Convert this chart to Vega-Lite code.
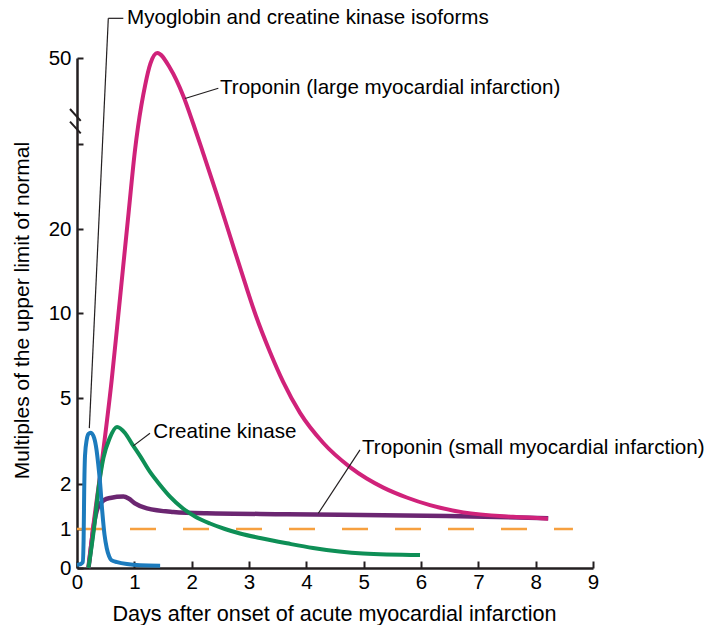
{
  "$schema": "https://vega.github.io/schema/vega-lite/v6.json",
  "width": 516,
  "height": 510,
  "autosize": {"type": "none"},
  "padding": {"left": 77, "top": 58, "right": 112, "bottom": 57},
  "background": "white",
  "config": {"view": {"stroke": null}, "font": "Liberation Sans", "axis": {"grid": false}},
  "datasets": {
    "curves": [
      {"s": "ref", "d": 0, "v": 1}, {"s": "ref", "d": 8.65, "v": 1},
      {"s": "purple", "d": 0.2, "v": 0}, {"s": "purple", "d": 0.25, "v": 0.6}, {"s": "purple", "d": 0.29, "v": 1.05}, {"s": "purple", "d": 0.37, "v": 1.5}, {"s": "purple", "d": 0.47, "v": 1.64}, {"s": "purple", "d": 0.58, "v": 1.69}, {"s": "purple", "d": 0.81, "v": 1.72}, {"s": "purple", "d": 0.9, "v": 1.68}, {"s": "purple", "d": 1.01, "v": 1.57}, {"s": "purple", "d": 1.22, "v": 1.46}, {"s": "purple", "d": 1.68, "v": 1.38}, {"s": "purple", "d": 2.26, "v": 1.35}, {"s": "purple", "d": 3.66, "v": 1.33}, {"s": "purple", "d": 6.45, "v": 1.29}, {"s": "purple", "d": 8.22, "v": 1.24},
      {"s": "magenta", "d": 0.2, "v": 0}, {"s": "magenta", "d": 0.284, "v": 1.06}, {"s": "magenta", "d": 0.431, "v": 2.73}, {"s": "magenta", "d": 0.605, "v": 6.06}, {"s": "magenta", "d": 0.7, "v": 9.2}, {"s": "magenta", "d": 0.8, "v": 15.2}, {"s": "magenta", "d": 0.9, "v": 22.9}, {"s": "magenta", "d": 1.012, "v": 33.9}, {"s": "magenta", "d": 1.064, "v": 37.9}, {"s": "magenta", "d": 1.19, "v": 45.3}, {"s": "magenta", "d": 1.28, "v": 49.0}, {"s": "magenta", "d": 1.4, "v": 50.88}, {"s": "magenta", "d": 1.622, "v": 48.25}, {"s": "magenta", "d": 1.854, "v": 43.35}, {"s": "magenta", "d": 2.029, "v": 38.44}, {"s": "magenta", "d": 2.203, "v": 33.27}, {"s": "magenta", "d": 2.437, "v": 26.18}, {"s": "magenta", "d": 2.669, "v": 19.2}, {"s": "magenta", "d": 2.93, "v": 13.61}, {"s": "magenta", "d": 3.122, "v": 9.84}, {"s": "magenta", "d": 3.366, "v": 7.72}, {"s": "magenta", "d": 3.598, "v": 5.94}, {"s": "magenta", "d": 3.89, "v": 4.48}, {"s": "magenta", "d": 4.296, "v": 3.43}, {"s": "magenta", "d": 4.762, "v": 2.59}, {"s": "magenta", "d": 5.053, "v": 2.19}, {"s": "magenta", "d": 5.343, "v": 1.92}, {"s": "magenta", "d": 5.751, "v": 1.7}, {"s": "magenta", "d": 6.157, "v": 1.53}, {"s": "magenta", "d": 6.738, "v": 1.37}, {"s": "magenta", "d": 7.605, "v": 1.27}, {"s": "magenta", "d": 8.215, "v": 1.23},
      {"s": "green", "d": 0.2, "v": 0}, {"s": "green", "d": 0.3, "v": 1.05}, {"s": "green", "d": 0.372, "v": 1.87}, {"s": "green", "d": 0.46, "v": 2.9}, {"s": "green", "d": 0.57, "v": 3.6}, {"s": "green", "d": 0.698, "v": 3.99}, {"s": "green", "d": 0.837, "v": 3.78}, {"s": "green", "d": 0.959, "v": 3.4}, {"s": "green", "d": 1.099, "v": 2.98}, {"s": "green", "d": 1.273, "v": 2.42}, {"s": "green", "d": 1.448, "v": 1.98}, {"s": "green", "d": 1.622, "v": 1.72}, {"s": "green", "d": 1.849, "v": 1.456}, {"s": "green", "d": 2.058, "v": 1.278}, {"s": "green", "d": 2.32, "v": 1.122}, {"s": "green", "d": 2.58, "v": 1.0}, {"s": "green", "d": 2.843, "v": 0.885}, {"s": "green", "d": 3.192, "v": 0.769}, {"s": "green", "d": 3.663, "v": 0.633}, {"s": "green", "d": 4.117, "v": 0.513}, {"s": "green", "d": 4.989, "v": 0.372}, {"s": "green", "d": 5.983, "v": 0.333},
      {"s": "blue", "d": 0, "v": 0.08}, {"s": "blue", "d": 0.06, "v": 0.1}, {"s": "blue", "d": 0.1, "v": 0.15}, {"s": "blue", "d": 0.115, "v": 0.7}, {"s": "blue", "d": 0.125, "v": 1.8}, {"s": "blue", "d": 0.14, "v": 3.0}, {"s": "blue", "d": 0.17, "v": 3.55}, {"s": "blue", "d": 0.2, "v": 3.75}, {"s": "blue", "d": 0.24, "v": 3.79}, {"s": "blue", "d": 0.3, "v": 3.6}, {"s": "blue", "d": 0.34, "v": 3.2}, {"s": "blue", "d": 0.37, "v": 2.7}, {"s": "blue", "d": 0.4, "v": 2.1}, {"s": "blue", "d": 0.44, "v": 1.4}, {"s": "blue", "d": 0.48, "v": 0.85}, {"s": "blue", "d": 0.52, "v": 0.5}, {"s": "blue", "d": 0.56, "v": 0.3}, {"s": "blue", "d": 0.6, "v": 0.2}, {"s": "blue", "d": 0.7, "v": 0.15}, {"s": "blue", "d": 0.87, "v": 0.1}, {"s": "blue", "d": 1.1, "v": 0.07}, {"s": "blue", "d": 1.45, "v": 0.06}
    ],
    "leaders": [
      {"d": 0.215, "v": 3.95, "d2": 0.546, "v2": 56.95},
      {"d": 0.546, "v": 56.95, "d2": 0.808, "v2": 56.95},
      {"d": 1.884, "v": 42.9, "d2": 2.465, "v2": 44.7},
      {"d": 0.982, "v": 3.33, "d2": 1.273, "v2": 3.77},
      {"d": 4.21, "v": 1.35, "d2": 4.936, "v2": 3.19}
    ],
    "breaks": [
      {"d": -0.122, "v": 41.07, "d2": 0.065, "v2": 39.0},
      {"d": -0.122, "v": 38.87, "d2": 0.065, "v2": 36.81}
    ],
    "labels": [
      {"d": 0.872, "v": 56.95, "t": "Myoglobin and creatine kinase isoforms"},
      {"d": 2.494, "v": 44.7, "t": "Troponin (large myocardial infarction)"},
      {"d": 1.331, "v": 3.82, "t": "Creatine kinase"},
      {"d": 4.971, "v": 3.25, "t": "Troponin (small myocardial infarction)"}
    ]
  },
  "encoding": {
    "x": {
      "field": "d", "type": "quantitative",
      "scale": {"domain": [0, 9], "nice": false, "zero": false},
      "axis": {
        "title": "Days after onset of acute myocardial infarction",
        "values": [0, 1, 2, 3, 4, 5, 6, 7, 8, 9],
        "tickSize": -7, "tickWidth": 2, "tickColor": "#231f20",
        "domainColor": "#231f20", "domainWidth": 2.5,
        "labelFontSize": 20.5, "labelColor": "#000000", "labelBaseline": "alphabetic", "labelPadding": 27,
        "labelFlush": false, "labelOverlap": false,
        "titleFontSize": 21.6, "titleFontWeight": "normal", "titleColor": "#000000",
        "titleX": 257, "titleY": 52, "titleBaseline": "alphabetic", "titleAlign": "center"
      }
    },
    "y": {
      "field": "v", "type": "quantitative",
      "scale": {"domain": [0, 1, 2, 5, 10, 20, 50], "range": [510, 471, 426, 340, 255.3, 171.3, 0], "nice": false, "zero": false},
      "axis": {
        "title": "Multiples of the upper limit of normal",
        "values": [0, 1, 2, 5, 10, 20, 35, 50],
        "labelExpr": "datum.value == 35 ? '' : datum.label",
        "tickSize": -6, "tickWidth": 2, "tickColor": "#231f20",
        "domainColor": "#231f20", "domainWidth": 2.5,
        "labelFontSize": 20.5, "labelColor": "#000000", "labelPadding": 12,
        "labelFlush": false, "labelOverlap": false,
        "titleFontSize": 21, "titleFontWeight": "normal", "titleColor": "#000000",
        "titleX": -49, "titleY": 252, "titleBaseline": "alphabetic", "titleAlign": "center", "titleAngle": 270
      }
    }
  },
  "layer": [
    {
      "data": {"name": "curves"},
      "transform": [{"filter": "datum.s == 'ref'"}],
      "mark": {"type": "line", "stroke": "#f6a03f", "strokeWidth": 2.5, "strokeDash": [26, 27]},
      "encoding": {}
    },
    {
      "data": {"name": "curves"},
      "transform": [{"filter": "datum.s == 'purple'"}],
      "mark": {"type": "line", "stroke": "#6b2671", "strokeWidth": 4.5, "interpolate": "monotone"},
      "encoding": {}
    },
    {
      "data": {"name": "curves"},
      "transform": [{"filter": "datum.s == 'magenta'"}],
      "mark": {"type": "line", "stroke": "#d0227a", "strokeWidth": 4, "interpolate": "monotone"},
      "encoding": {}
    },
    {
      "data": {"name": "curves"},
      "transform": [{"filter": "datum.s == 'green'"}],
      "mark": {"type": "line", "stroke": "#0e8f56", "strokeWidth": 4, "interpolate": "monotone"},
      "encoding": {}
    },
    {
      "data": {"name": "curves"},
      "transform": [{"filter": "datum.s == 'blue'"}],
      "mark": {"type": "line", "stroke": "#1c7bbd", "strokeWidth": 4, "interpolate": "monotone"},
      "encoding": {}
    },
    {
      "data": {"name": "leaders"},
      "mark": {"type": "rule", "stroke": "#231f20", "strokeWidth": 1.2},
      "encoding": {"x2": {"field": "d2"}, "y2": {"field": "v2"}}
    },
    {
      "data": {"name": "breaks"},
      "mark": {"type": "rule", "stroke": "#231f20", "strokeWidth": 2},
      "encoding": {"x2": {"field": "d2"}, "y2": {"field": "v2"}}
    },
    {
      "data": {"name": "labels"},
      "mark": {"type": "text", "align": "left", "baseline": "middle", "fontSize": 20.6, "color": "#000000"},
      "encoding": {"text": {"field": "t"}}
    }
  ]
}
